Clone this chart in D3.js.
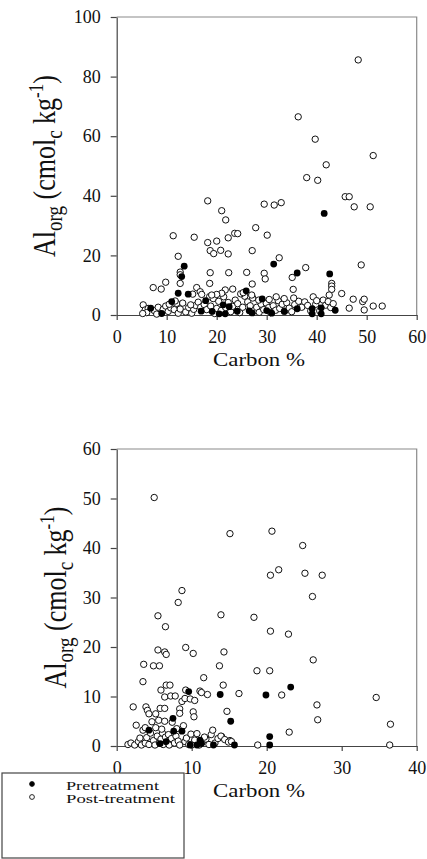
<!DOCTYPE html>
<html>
<head>
<meta charset="utf-8">
<script src="https://cdn.jsdelivr.net/npm/d3@7/dist/d3.min.js"></script>
<style>
  body { margin: 0; background: #fff; }
  svg text { font-family: "Liberation Serif", "DejaVu Serif", serif; fill: #111; }
</style>
</head>
<body>
<section></section>
<script>
// [carbon %, Al org] pairs
const preTop = [
  [6.8,2.3],[9.0,0.5],[11.0,4.5],[12.3,7.3],[13.0,12.9],[13.5,16.4],[14.3,7.0],[16.9,1.3],
  [17.8,4.8],[19.1,1.2],[20.5,0.4],[21.3,3.4],[21.7,0.4],[22.5,2.8],[24.1,1.3],[25.9,8.1],
  [26.5,1.4],[27.1,0.7],[29.1,5.4],[30.0,1.5],[31.0,0.6],[31.4,17.1],[33.5,1.2],[36.1,14.1],
  [36.1,2.1],[39.1,2.1],[39.1,0.4],[40.9,2.4],[40.9,0.4],[41.5,34.1],[42.6,13.8],[43.7,1.6]
];
const postTop = [
  [48.3,85.6],[36.3,66.5],[39.7,59.0],[51.3,53.5],[41.9,50.4],[38.0,46.1],[40.2,45.2],[45.7,39.7],
  [46.5,39.7],[47.5,36.3],[50.7,36.3],[18.2,38.3],[21.0,35.0],[21.8,31.9],[29.5,37.2],[31.5,36.9],
  [32.9,37.7],[11.3,26.6],[15.5,26.1],[18.2,24.3],[20.0,24.8],[22.3,25.9],[23.6,27.4],[24.2,27.3],
  [27.8,29.3],[30.1,26.8],[12.3,19.7],[18.7,21.6],[19.4,20.6],[20.8,21.7],[22.3,20.5],[27.1,21.6],
  [32.5,19.2],[48.9,16.8],[37.8,15.9],[12.7,14.4],[12.7,13.5],[18.7,14.2],[22.4,14.2],[26.0,14.3],
  [29.5,14.0],[29.7,12.1],[35.1,12.6],[12.7,10.6],[18.6,10.6],[27.1,10.4],[35.3,8.6],[43.0,10.6],
  [43.0,9.7],[43.0,8.6],[7.3,9.2],[8.9,8.7],[9.8,11.0],
  [5.3,3.4],[5.7,1.7],[6.3,2.2],[6.0,0.8],[7.5,1.5],[8.0,0.3],[8.3,2.6],[9.3,1.9],[9.8,3.0],
  [10.3,1.2],[10.8,2.4],[11.5,1.8],[12.0,3.9],[12.3,0.6],[12.7,2.0],[13.2,4.0],[13.8,1.0],[14.4,2.5],
  [15.0,0.6],[15.4,1.9],[15.8,3.2],[16.3,4.3],[16.8,2.6],[17.5,3.5],[18.0,1.8],[18.6,6.2],[18.8,3.0],
  [19.3,5.5],[19.6,0.5],[20.0,2.2],[20.4,4.6],[20.9,1.5],[21.4,6.1],[21.8,2.5],[22.3,4.2],[22.8,1.1],
  [23.2,2.9],[23.7,5.0],[24.2,3.8],[24.6,0.8],[25.2,2.6],[25.6,6.3],[26.2,4.4],[26.7,3.1],[27.2,5.7],
  [27.5,1.5],[28.0,2.6],[28.5,0.9],[28.9,3.6],[29.4,1.8],[29.9,4.0],[30.4,2.5],[30.8,0.8],[31.3,3.1],
  [31.8,1.6],[32.3,4.8],[32.6,2.2],[33.1,3.6],[33.6,1.3],[34.0,4.1],[34.5,2.3],[35.0,1.1],[35.6,3.5],
  [36.4,4.6],[37.0,2.6],[37.6,4.4],[38.2,3.2],[38.8,1.4],[39.3,6.1],[39.8,3.6],[40.0,4.8],[40.6,1.4],
  [41.3,5.0],[41.8,3.3],[42.3,4.5],[42.5,6.7],[42.8,2.5],[43.3,3.8],[45.0,7.2],[46.5,2.3],[47.3,5.3],
  [49.2,4.5],[49.5,5.3],[49.5,1.7],[51.3,3.0],[53.1,3.0],[16.0,9.2],[16.7,7.8],[15.2,7.0],[17.0,6.9],
  [24.8,7.1],[25.3,7.5],[27.0,6.7],[21.7,8.4],[21.0,7.3],[20.0,6.9],[19.0,6.7],[31.9,6.1],[23.2,8.7],
  [11.7,4.7],[10.5,3.6],[14.8,3.4],[5.2,0.5],[33.5,5.5],[35.4,5.7],[30.5,5.2],[28.4,5.0]
];
const preBottom = [
  [13.8,10.4],[19.9,10.3],[23.2,11.9],[15.2,5.0],[20.4,1.9],[20.4,0.2],[15.7,0.2],[7.5,5.6],
  [7.6,3.0],[8.7,3.0],[4.3,3.2],[9.6,11.0],[11.1,1.2],[11.3,0.5],[12.9,0.2],[9.8,0.2],
  [10.7,0.2],[6.6,0.9],[5.8,0.5]
];
const postBottom = [
  [5.0,50.2],[15.1,42.9],[20.7,43.4],[24.8,40.5],[20.5,34.5],[21.6,35.6],[25.1,34.9],[27.4,34.5],
  [26.1,30.2],[8.7,31.4],[8.2,29.0],[5.5,26.3],[13.9,26.5],[18.3,26.0],[6.5,24.1],[5.5,19.4],
  [6.4,19.0],[6.6,18.5],[9.2,19.9],[10.2,18.7],[14.3,19.0],[20.5,23.2],[22.9,22.6],[26.2,17.4],
  [18.7,15.2],[20.4,15.2],[3.6,16.5],[4.9,16.2],[5.7,16.2],[13.7,16.2],[3.5,13.0],[11.6,13.8],
  [6.6,12.3],[7.1,12.3],[14.2,12.3],[5.9,11.3],[9.2,11.3],[11.1,11.1],[11.3,10.8],[12.1,10.4],
  [16.3,10.6],[22.0,10.3],[34.6,9.8],[6.4,9.9],[7.2,10.1],[7.8,10.1],[8.7,9.0],[9.1,9.6],
  [9.8,9.5],[10.4,9.2],[26.7,8.3],[2.2,7.9],[3.9,7.9],[4.1,7.2],[4.3,6.5],[5.2,6.5],
  [5.8,7.6],[6.4,7.6],[8.4,7.5],[8.4,6.6],[10.2,6.9],[10.3,5.9],[14.7,7.0],[26.8,5.3],
  [36.5,4.4],[23.0,2.8],[36.4,0.2],[18.8,0.2],[14.0,1.9],[15.1,1.1],
  [1.5,0.3],[1.9,0.6],[2.4,0.2],[2.6,4.2],[2.9,0.9],[3.1,1.6],[3.3,0.2],[3.5,3.2],[3.8,0.6],
  [4.0,1.7],[4.3,0.3],[4.5,2.6],[4.7,4.9],[4.9,1.1],[5.1,0.2],[5.2,3.7],[5.4,2.0],[5.6,5.2],
  [5.7,0.6],[5.9,1.4],[6.1,2.6],[6.2,0.3],[6.4,5.0],[6.5,1.8],[6.7,0.8],[6.9,2.3],[7.0,0.2],
  [7.3,1.5],[7.4,4.8],[7.7,0.6],[7.9,2.0],[8.2,1.0],[8.4,0.2],[8.9,4.1],[9.1,0.9],[9.3,1.6],
  [9.6,0.3],[9.9,2.4],[10.2,0.5],[10.4,1.2],[10.7,2.5],[11.0,0.2],[11.4,0.8],[11.9,1.4],[12.3,0.3],
  [12.6,2.3],[12.8,3.2],[13.1,0.6],[13.5,1.5],[13.9,2.0],[14.4,1.3],[14.9,0.8],[15.3,0.9],[8.0,3.5],
  [6.0,3.4],[3.8,3.7],[10.0,0.2],[11.7,1.8]
];

const topXTicks = [0, 10, 20, 30, 40, 50, 60];
const topYTicks = [0, 20, 40, 60, 80, 100];
const bottomXTicks = [0, 10, 20, 30, 40];
const bottomYTicks = [0, 10, 20, 30, 40, 50, 60];
const legendLabels = ["Pretreatment", "Post-treatment"];

const width = 427, height = 859;

const svg = d3.select("section").append("svg")
  .attr("width", width)
  .attr("height", height);

function drawPanel(cfg) {
  var x = d3.scaleLinear().domain([0, d3.max(cfg.xTicks)]).range([116.7, 416.7]);
  var y = d3.scaleLinear().domain([0, d3.max(cfg.yTicks)]).range([cfg.bottom, cfg.top]);
  var g = svg.append("g");

  // top + right frame (lighter)
  g.append("path")
    .attr("d", `M${x.range()[0]},${y.range()[1]}H${x.range()[1]}V${y.range()[0]}`)
    .attr("fill", "none")
    .attr("stroke", "#8a8a8a")
    .attr("stroke-width", 1.2);

  var xAxis = g.append("g")
    .attr("transform", `translate(0,${cfg.bottom})`)
    .call(d3.axisBottom(x).tickValues(cfg.xTicks).tickSize(5).tickPadding(10).tickSizeOuter(0));
  var yAxis = g.append("g")
    .attr("transform", `translate(116.7,0)`)
    .call(d3.axisLeft(y).tickValues(cfg.yTicks).tickSize(6).tickPadding(10).tickSizeOuter(0));

  [xAxis, yAxis].forEach(a => {
    a.attr("font-family", null);
    a.selectAll("path, line").attr("stroke", "#444").attr("stroke-width", 1.2);
    a.selectAll("text").attr("font-size", 18).attr("fill", "#111")
      .style("font-family", '"Liberation Serif", serif');
  });

  g.append("g").selectAll("circle")
    .data(cfg.post)
    .enter()
    .append("circle")
    .attr("cx", d => x(d[0]))
    .attr("cy", d => y(d[1]))
    .attr("r", 3.2)
    .attr("fill", "#fff")
    .attr("stroke", "#111")
    .attr("stroke-width", 1);

  g.append("g").selectAll("circle")
    .data(cfg.pre)
    .enter()
    .append("circle")
    .attr("cx", d => x(d[0]))
    .attr("cy", d => y(d[1]))
    .attr("r", 3.4)
    .attr("fill", "#000");

  g.append("text")
    .attr("x", 259)
    .attr("y", cfg.bottom + 51)
    .attr("text-anchor", "middle")
    .attr("font-size", 18)
    .attr("textLength", 92)
    .attr("lengthAdjust", "spacingAndGlyphs")
    .text("Carbon %");

  // rotated y label, stretched a little to match the figure
  var yl = g.append("text")
    .attr("transform", `translate(${cfg.labelX},${(cfg.top + cfg.bottom) / 2}) scale(1.2,1) rotate(-90)`)
    .attr("text-anchor", "middle")
    .attr("font-size", 26);
  yl.append("tspan").text("Al");
  yl.append("tspan").attr("font-size", 19).attr("dy", 6).text("org");
  yl.append("tspan").attr("dy", -6).text(" (cmol");
  yl.append("tspan").attr("font-size", 19).attr("dy", 6).text("c");
  yl.append("tspan").attr("dy", -6).text(" kg");
  yl.append("tspan").attr("font-size", 17).attr("dy", -10).text("-1");
  yl.append("tspan").attr("dy", 10).text(")");
}

drawPanel({ pre: preTop, post: postTop, xTicks: topXTicks, yTicks: topYTicks, top: 17, bottom: 315, labelX: 55 });
drawPanel({ pre: preBottom, post: postBottom, xTicks: bottomXTicks, yTicks: bottomYTicks, top: 449, bottom: 746, labelX: 66 });

// legend box
var legend = svg.append("g");
legend.append("rect")
  .attr("x", 2).attr("y", 773)
  .attr("width", 182).attr("height", 85)
  .attr("fill", "#fff")
  .attr("stroke", "#444")
  .attr("stroke-width", 1.2);

legend.selectAll("circle")
  .data(legendLabels)
  .enter()
  .append("circle")
  .attr("cx", 32)
  .attr("cy", (d, i) => 784 + i * 13)
  .attr("r", 2.4)
  .attr("fill", (d, i) => i === 0 ? "#000" : "#fff")
  .attr("stroke", "#111")
  .attr("stroke-width", 0.9);

legend.selectAll("text")
  .data(legendLabels)
  .enter()
  .append("text")
  .attr("x", 66)
  .attr("y", (d, i) => 789.5 + i * 13)
  .attr("font-size", 11.5)
  .attr("textLength", (d, i) => i === 0 ? 93 : 109)
  .attr("lengthAdjust", "spacingAndGlyphs")
  .text(d => d);
</script>
</body>
</html>
